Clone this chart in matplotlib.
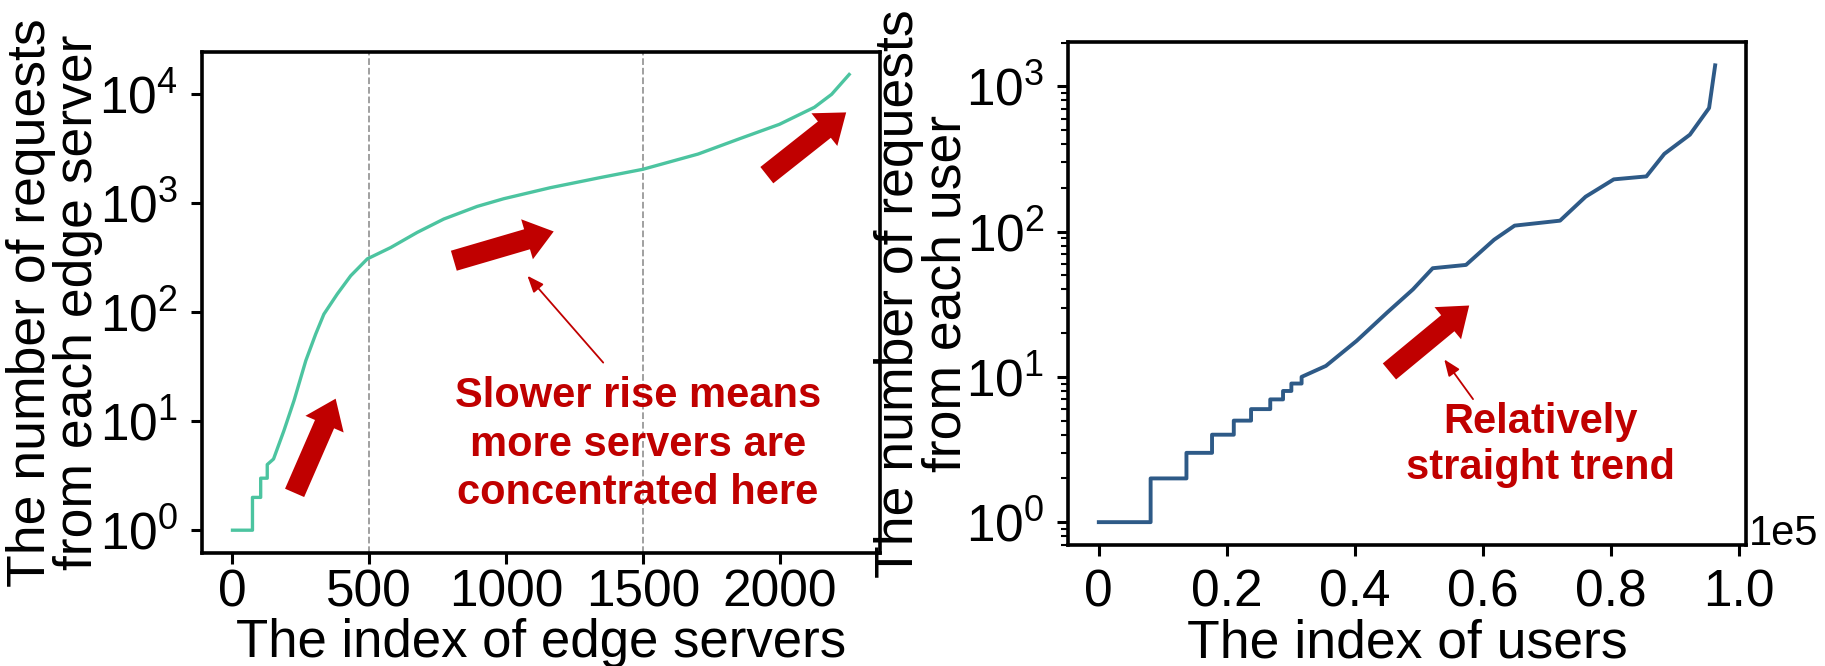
import matplotlib
matplotlib.use('Agg')
import matplotlib.pyplot as plt

plt.rcParams['font.family'] = ['Liberation Sans', 'DejaVu Sans']
plt.rcParams['mathtext.fontset'] = 'custom'
plt.rcParams['mathtext.rm'] = 'Liberation Sans'

# ---------------- data ----------------
edge_idx = [0, 73, 73, 103, 103, 127, 127, 150, 188, 225, 268, 304, 334, 383,
            432, 493, 578, 675, 772, 894, 991, 1162, 1344, 1500, 1702, 1851,
            1999, 2127, 2190, 2254]
edge_req = [1, 1, 2, 2, 3, 3, 4, 4.5, 8.2, 15.5, 36, 63, 96, 147,
            216, 309, 392, 540, 716, 935, 1100, 1390, 1720, 2050, 2830, 3890,
            5300, 7600, 10000, 15200]

user_idx = [0, 8100, 8100, 13700, 13700, 17700, 17700, 21100, 21100, 23800,
            23800, 26800, 26800, 28800, 28800, 30100, 30100, 31700, 31700,
            35500, 40300, 45100, 49100, 52200, 57400, 61800, 65000, 72100,
            76100, 80500, 85600, 88400, 92400, 95400, 96350]
user_req = [1, 1, 2, 2, 3, 3, 4, 4, 5, 5,
            6, 6, 7, 7, 8, 8, 9, 9, 10,
            11.9, 17.7, 27.8, 40, 56, 59, 88, 110, 119,
            174, 229, 240, 343, 465, 710, 1396]

edge_xticks = [0, 500, 1000, 1500, 2000]
edge_yticks = [1, 10, 100, 1000, 10000]
edge_vlines = [500, 1500]
user_xticks = [0, 20000, 40000, 60000, 80000, 100000]
user_xticklabels = ['0', '0.2', '0.4', '0.6', '0.8', '1.0']
user_yticks = [1, 10, 100, 1000]

edge_note = 'Slower rise means\nmore servers are\nconcentrated here'
user_note = 'Relatively\nstraight trend'

# ---------------- style ----------------
RED = '#C00000'
TEAL = '#4CC4A0'
BLUE = '#2E5A87'
FS = 37
LFS = 38.5

fig = plt.figure(figsize=(18.25, 6.66), dpi=100)
ax1 = fig.add_axes([0.1105, 0.1697, 0.3717, 0.7527])
ax2 = fig.add_axes([0.5852, 0.1817, 0.3715, 0.7545])

for ax in (ax1, ax2):
    ax.set_yscale('log')
    for s in ax.spines.values():
        s.set_linewidth(2.6)
    ax.tick_params(which='major', direction='out', length=8, width=2.2,
                   labelsize=FS)
    ax.tick_params(axis='y', which='major', pad=9)
    ax.tick_params(which='minor', direction='out', length=5, width=1.5)
    ax.tick_params(axis='x', which='minor', bottom=False)
ax1.tick_params(axis='x', which='major', pad=3.5)
ax2.tick_params(axis='x', which='major', pad=9)

# ---- left panel ----
ax1.plot(edge_idx, edge_req, color=TEAL, lw=2.4)
for v in edge_vlines:
    ax1.axvline(v, color='#999999', ls='--', lw=1.3, zorder=0)
ax1.set_xticks(edge_xticks)
ax1.set_yticks(edge_yticks)
ax1.set_xlabel('The index of edge servers', fontsize=38, labelpad=0.3)
ax1.set_ylabel('The number of requests\nfrom each edge server', fontsize=LFS,
               linespacing=0.92)
ax1.yaxis.set_label_coords(-0.145, 0.5)

big = dict(arrowstyle='simple,head_width=3.0,head_length=2.0,tail_width=1.5',
           mutation_scale=10, color=RED, shrinkA=0, shrinkB=0, lw=0)
thin = dict(arrowstyle='-|>,head_length=0.5,head_width=0.2', mutation_scale=20,
            color=RED, shrinkA=0, shrinkB=0, lw=1.3)

ax1.annotate('', xy=(377, 16.1), xytext=(227, 2.2), arrowprops=big)
ax1.annotate('', xy=(1174, 551), xytext=(809, 297), arrowprops=big)
ax1.annotate('', xy=(2243, 6820), xytext=(1953, 1811), arrowprops=big)
ax1.annotate('', xy=(1078, 216), xytext=(1355, 34.5), arrowprops=thin)
ax1.text(1481, 6.1, edge_note, color=RED, fontsize=30, fontweight='bold',
         ha='center', va='center', linespacing=1.28)

# ---- right panel ----
ax2.plot(user_idx, user_req, color=BLUE, lw=2.8)
ax2.set_xticks(user_xticks, labels=user_xticklabels)
ax2.set_yticks(user_yticks)
ax2.set_xlabel('The index of users', fontsize=LFS, labelpad=0.3)
ax2.set_ylabel('The number of requests\nfrom each user', fontsize=LFS,
               linespacing=0.92)
ax2.yaxis.set_label_coords(-0.143, 0.5)
ax2.text(1.005, 0.0, '1e5', transform=ax2.transAxes, ha='left',
         va='baseline', fontsize=30)

ax2.annotate('', xy=(57900, 31.0), xytext=(45430, 10.9), arrowprops=big)
ax2.annotate('', xy=(54000, 13.2), xytext=(58500, 7.03), arrowprops=thin)
ax2.text(69100, 3.4, user_note, color=RED, fontsize=30, fontweight='bold',
         ha='center', va='center', linespacing=1.18)

fig.savefig('out.png', dpi=100)
